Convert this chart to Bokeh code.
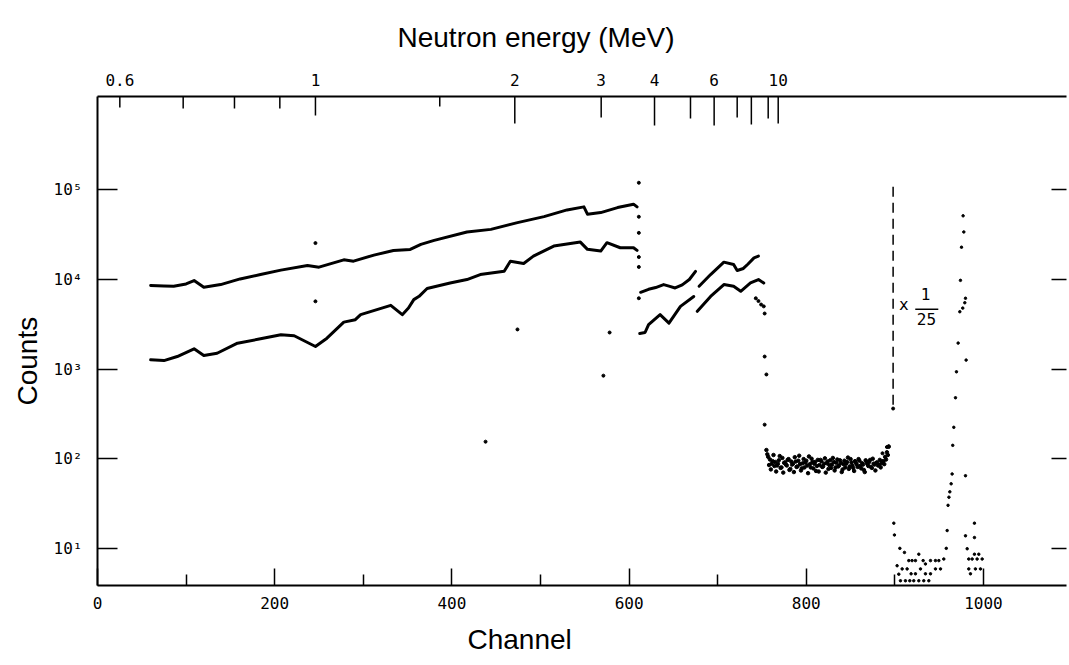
import numpy as np
from bokeh.plotting import figure
from bokeh.models import Range1d, LogAxis, LinearAxis, FixedTicker, Title, LinearScale
from bokeh.embed import file_html
from bokeh.resources import INLINE
from bokeh.core.properties import value

# ---------------- data ----------------
# upper spectrum, first part
upper1_ch = [60, 75, 86, 100, 109, 120, 139, 161, 184, 207, 237, 250, 278, 289, 312, 334,
             353, 365, 380, 417, 444, 474, 504, 530, 549, 553, 568, 587, 605, 609]
upper1_counts = [8551, 8472, 8414, 8913, 9727, 8185, 8770, 10139, 11350, 12706, 14322, 13709,
                 16558, 15996, 18707, 21086, 21627, 24660, 27290, 33810, 36220, 43050, 50230,
                 59700, 64570, 53460, 55720, 63390, 69180, 64570]
# lower spectrum, first part
lower1_ch = [60, 75, 90, 109, 120, 135, 158, 184, 207, 222, 246, 259, 278, 291, 297, 331, 344,
             351, 357, 363, 372, 398, 417, 432, 459, 466, 481, 492, 515, 545, 553, 568, 575,
             590, 605, 609]
lower1_counts = [1268, 1245, 1380, 1683, 1416, 1503, 1945, 2178, 2415, 2355, 1786, 2213, 3342,
                 3556, 4046, 5140, 4046, 4797, 5957, 6486, 7925, 9141, 9977, 11350, 12360,
                 15996, 15100, 18197, 23605, 26122, 21677, 20749, 25704, 22594, 22594, 21086]
# second part (broken pieces)
upper2a_ch = [613, 622, 630, 639, 645, 652, 660, 668, 675]
upper2a_counts = [7194, 7762, 8128, 8770, 8414, 8035, 8710, 10000, 12300]
upper2b_ch = [679, 692, 707, 718, 722, 729, 734, 741, 746]
upper2b_counts = [8395, 11350, 15600, 14690, 12590, 13270, 14790, 17420, 18200]
lower2a_ch = [612, 618, 622, 635, 645, 658, 673]
lower2a_counts = [2500, 2560, 3126, 4046, 3258, 5012, 6457]
lower2b_ch = [677, 692, 707, 718, 726, 737, 746, 752]
lower2b_counts = [4406, 6457, 8770, 8395, 7379, 9141, 9977, 9120]
# isolated points (transitions, specks)
dots_ch = [611, 611, 611, 611, 611, 743, 746, 749, 752, 753, 753, 755, 753,
           246, 246, 474, 578, 571, 438, 611, 886, 891, 893, 898]
dots_counts = [50100, 33100, 17800, 13800, 6170, 6170, 5750, 5250, 5010, 4170, 1380, 871, 240,
               25470, 5700, 2770, 2560, 845, 155, 120000, 115, 135, 138, 363]
# flat background region (channel 755-893)
noise_a = [125, 105, 98, 88, 110, 92, 84, 96, 79, 102,
           90, 86, 97, 75, 93, 88, 104, 81, 95, 87,
           78, 99, 91, 84, 106, 80, 92, 88, 73, 97,
           85, 94, 82, 101, 89, 77, 96, 86, 92, 80,
           98, 84, 90, 76, 95, 88, 103, 82, 91, 79,
           94, 86, 99, 83, 89, 75, 96, 87, 92, 81,
           100, 86, 90, 84, 97, 89, 94, 105, 118, 136]
noise_b = [112, 85, 76, 94, 83, 72, 88, 107, 80, 70,
           91, 84, 99, 77, 86, 71, 93, 82, 108, 74,
           89, 80, 95, 69, 87, 100, 78, 92, 83, 72,
           97, 81, 88, 70, 93, 85, 79, 102, 74, 90,
           82, 96, 71, 87, 80, 92, 77, 99, 84, 73,
           90, 81, 95, 78, 86, 71, 92, 83, 97, 79,
           88, 74, 91, 85, 80, 93, 87, 98, 110]
noise_a_ch = list(range(755, 755 + 2 * len(noise_a), 2))
noise_b_ch = list(range(756, 756 + 2 * len(noise_b), 2))
# peak region (x 1/25)
peak_ch = [958, 959, 960, 961, 962, 963.5, 964.6, 965.3, 966.5, 968.4, 969.5, 971.4, 973.3, 974,
           975.2, 976.6, 977, 977.8, 978.9, 979.7, 980.4, 979.7, 979.7, 989.8, 989.8, 898.8, 899.5]
peak_counts = [10.0, 15.8, 30.2, 37.2, 42.7, 52.5, 67.6, 141, 224, 479, 933, 1950, 4365, 9772,
               22900, 4790, 51300, 33900, 5500, 6170, 1260, 64.6, 13.8, 19.1, 13.2, 19.1, 14.1]
low_ch = [905.6, 910.8, 915.7, 919.4, 923.2, 927.0, 931.9, 934.5, 940.2, 945.8, 949.6, 955.2,
          902.5, 908.2, 913.8, 918.3, 923.2, 928.9, 934.5, 940.2, 945.8, 951.5, 904.4,
          906.3, 911.9, 916.8, 921.3, 927.0, 932.6, 938.3,
          981.6, 989.8, 994.7, 998.5, 983.4, 987.2, 992.8, 983.4, 990.9, 996.6, 985.3]
low_counts = [10.0, 9.0, 7.3, 7.3, 7.3, 8.6, 7.3, 6.7, 7.3, 7.3, 7.3, 7.6,
              6.4, 5.9, 5.9, 5.2, 5.2, 5.9, 5.2, 5.2, 5.9, 5.9, 5.15,
              4.35, 4.35, 4.35, 4.35, 4.35, 4.35, 4.35,
              9.9, 8.6, 8.6, 7.6, 7.6, 7.6, 7.6, 5.9, 5.9, 5.9, 5.2]
# scale change marker
scale_line_ch = [898, 898]
scale_line_counts = [400, 117000]

# axes: channel ticks, counts ticks, neutron energy ticks (energy -> channel)
channel_ticks = [0, 200, 400, 600, 800, 1000]
channel_minor = [100, 300, 500, 700, 900]
count_ticks = [10, 100, 1000, 10000, 100000]
count_labels = ["10\u00b9", "10\u00b2", "10\u00b3", "10\u2074", "10\u2075"]
energy_values = [0.6, 0.7, 0.8, 0.9, 1, 1.5, 2, 3, 4, 5, 6, 7, 8, 9, 10]
energy_channels = [25.2, 96.7, 154.6, 205.8, 246, 386.3, 471, 568.5, 628.7, 669.3, 696, 722,
                   738, 757, 768.3]
energy_labelled = [0.6, 1, 2, 3, 4, 6, 10]

# styles
energy_tick_len_px = [11, 12, 12, 12, 19, 10, 27, 21, 29, 22, 29, 21, 28, 22, 27]
FRAME_H = 489
TICK_FONT = "DejaVu Sans Mono"
TITLE_FONT = "Liberation Sans"
INK = "black"

# ---------------- figure ----------------
p = figure(width=1069, height=665, y_axis_type="log",
           x_range=Range1d(0, 1093.7), y_range=Range1d(3.85, 1.1e6),
           output_backend="svg", toolbar_location=None,
           min_border_left=97, min_border_right=3, min_border_top=96, min_border_bottom=80)
p.grid.visible = False
p.outline_line_color = None
p.background_fill_color = "white"
p.border_fill_color = "white"

# top title (off-centre, as in the original)
p.title.text = "Neutron energy (MeV)"
p.title.align = "left"
p.title.offset = 300
p.title.text_font = TITLE_FONT
p.title.text_font_size = "28px"
p.title.text_font_style = "normal"
p.title.text_color = INK
p.title.standoff = 35


def style_axis(ax):
    ax.axis_line_color = INK
    ax.major_tick_line_color = INK
    ax.minor_tick_line_color = INK
    ax.major_label_text_color = INK
    ax.major_label_text_font = TICK_FONT
    ax.major_label_text_font_size = "16px"


# bottom axis
xa = p.xaxis[0]
style_axis(xa)
xa.ticker = FixedTicker(ticks=channel_ticks, minor_ticks=channel_minor)
xa.major_tick_in = 17
xa.major_tick_out = 0
xa.minor_tick_in = 11
xa.minor_tick_out = 0
xa.axis_line_width = 2
xa.major_tick_line_width = 1.5
xa.minor_tick_line_width = 1.5
xa.major_label_standoff = 11

# left axis
ya = p.yaxis[0]
style_axis(ya)
ya.ticker = FixedTicker(ticks=count_ticks, minor_ticks=[])
ya.major_label_overrides = {t: s for t, s in zip(count_ticks, count_labels)}
ya.major_tick_in = 20
ya.major_tick_out = 0
ya.minor_tick_in = 0
ya.minor_tick_out = 0
ya.axis_line_width = 2
ya.major_tick_line_width = 1.5
ya.major_label_standoff = 15

# right axis: ticks only
ra = LogAxis(ticker=FixedTicker(ticks=count_ticks, minor_ticks=[]))
style_axis(ra)
ra.major_label_overrides = {t: "" for t in count_ticks}
ra.major_tick_in = 15
ra.major_tick_out = 0
ra.minor_tick_in = 0
ra.minor_tick_out = 0
ra.axis_line_color = None
ra.major_tick_line_width = 1.5
ra.major_label_standoff = 0
ra.major_label_text_font_size = "1px"
p.add_layout(ra, "right")

# top axis: energy labels
lab_ch = [c for e, c in zip(energy_values, energy_channels) if e in energy_labelled]
lab_txt = [("%g" % e) for e in energy_values if e in energy_labelled]
ta = LinearAxis(ticker=FixedTicker(ticks=lab_ch, minor_ticks=[]))
style_axis(ta)
ta.major_label_overrides = {c: s for c, s in zip(lab_ch, lab_txt)}
ta.major_tick_in = 0
ta.major_tick_out = 0
ta.minor_tick_in = 0
ta.minor_tick_out = 0
ta.axis_line_width = 2
ta.major_label_standoff = 11
p.add_layout(ta, "above")

# energy tick marks (pointing into the frame)
p.extra_y_ranges = {"frame": Range1d(0, 1)}
p.extra_y_scales = {"frame": LinearScale()}
p.segment(x0=energy_channels, x1=energy_channels,
          y0=[1] * len(energy_channels),
          y1=[1 - l / FRAME_H for l in energy_tick_len_px],
          y_range_name="frame", line_color=INK, line_width=1.5)

# axis titles
p.add_layout(Title(text="Channel", align="left", offset=370, text_font=TITLE_FONT,
                   text_font_size="28px", text_font_style="normal", text_color=INK,
                   standoff=20), "below")
p.add_layout(Title(text="Counts", align="left", offset=180, text_font=TITLE_FONT,
                   text_font_size="28px", text_font_style="normal", text_color=INK,
                   standoff=16), "left")

# ---------------- data marks ----------------
LW = 3
for xs, ys in [(upper1_ch, upper1_counts), (lower1_ch, lower1_counts),
               (upper2a_ch, upper2a_counts), (upper2b_ch, upper2b_counts),
               (lower2a_ch, lower2a_counts), (lower2b_ch, lower2b_counts)]:
    p.line(xs, ys, line_color=INK, line_width=LW, line_join="round", line_cap="round")

p.scatter(dots_ch, dots_counts, size=3, color=INK)
p.scatter(noise_a_ch, noise_a, size=3.5, color=INK)
p.scatter(noise_b_ch, noise_b, size=3.5, color=INK)
p.scatter(peak_ch, peak_counts, size=2.5, color=INK)
p.scatter(low_ch, low_counts, size=2.5, color=INK)

p.line(scale_line_ch, scale_line_counts, line_color=INK, line_width=1.5, line_dash="10 6")

# "x 1/25" label
p.text(x=[910], y=[5250], text=["x"], text_font=value(TICK_FONT), text_font_size="16px",
       text_align="center", text_baseline="middle", text_color=INK)
p.text(x=[934.5], y=[6840], text=["1"], text_font=value(TICK_FONT), text_font_size="16px",
       text_align="center", text_baseline="middle", text_color=INK)
p.text(x=[935.6], y=[3590], text=["25"], text_font=value(TICK_FONT), text_font_size="16px",
       text_align="center", text_baseline="middle", text_color=INK)
p.segment(x0=[923], x1=[949], y0=[4650], y1=[4650], line_color=INK, line_width=1.5)

open("out.html", "w").write(file_html(p, INLINE))
